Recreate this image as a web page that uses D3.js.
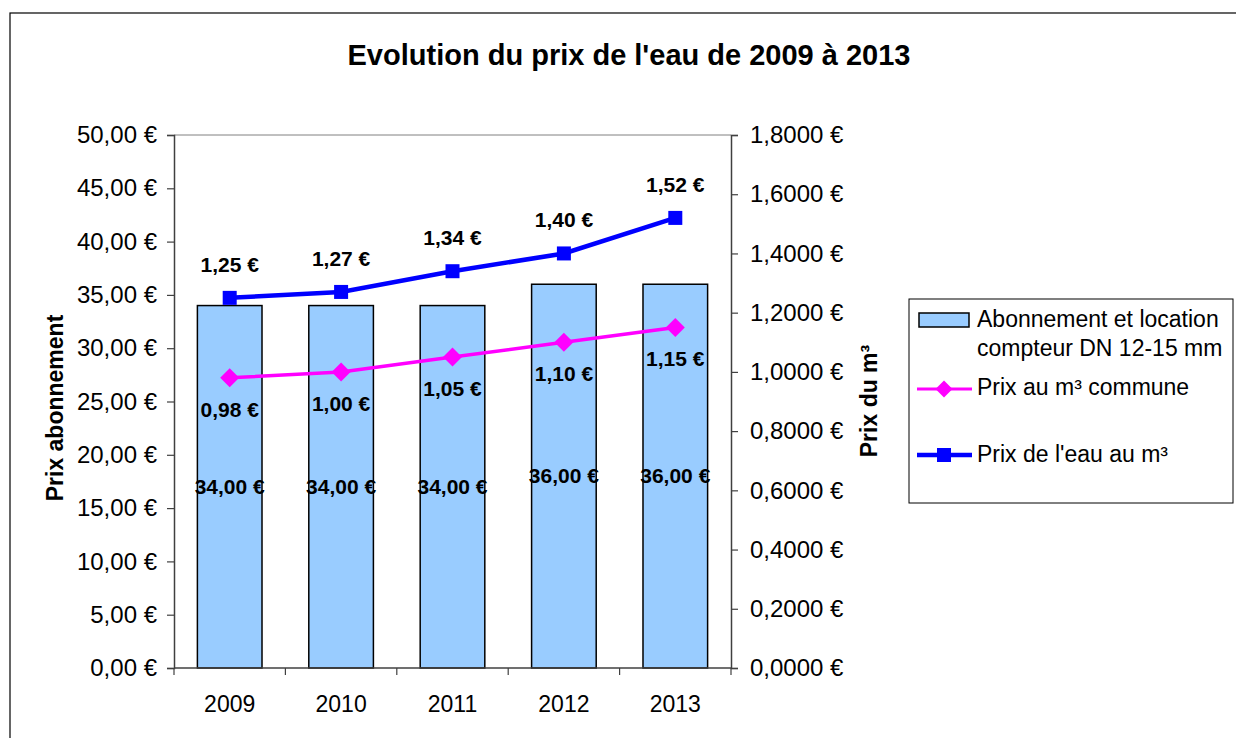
<!DOCTYPE html>
<html><head><meta charset="utf-8">
<script src="https://cdn.jsdelivr.net/npm/d3@7"></script>
<style>body{margin:0;background:#fff;} text{font-family:"Liberation Sans",Arial,sans-serif;}</style>
</head><body><svg id="c" width="1236" height="738"></svg>
<script>
const years = ["2009","2010","2011","2012","2013"];
const abonnement = [34, 34, 34, 36, 36];
const prixCommune = [0.98, 1.00, 1.05, 1.10, 1.15];
const prixEau = [1.25, 1.27, 1.34, 1.40, 1.52];
const leftTicks = [0,5,10,15,20,25,30,35,40,45,50];
const rightTicks = [0,0.2,0.4,0.6,0.8,1.0,1.2,1.4,1.6,1.8];

const svg = d3.select("#c");
const L=174, R=731, T=135, B=668;
const fmt2 = v => d3.format(".2f")(v).replace(".", ",") + " €";
const fmt4 = v => d3.format(".4f")(v).replace(".", ",") + " €";
const FONT = "Liberation Sans, Arial, sans-serif";

svg.append("rect").attr("x",10).attr("y",13).attr("width",1240).attr("height",740)
  .attr("fill","#fff").attr("stroke","#000").attr("stroke-width",1.2);

const x = d3.scaleBand().domain(years).range([L,R]).paddingInner(0.42).paddingOuter(0.21);
const xb = d3.scaleBand().domain(years).range([L,R]);
const yL = d3.scaleLinear().domain([0,50]).range([B,T]);
const yR = d3.scaleLinear().domain([0,1.8]).range([B,T]);

svg.append("line").attr("x1",L).attr("x2",R).attr("y1",T).attr("y2",T).attr("stroke","#808080").attr("stroke-width",1);

svg.selectAll("rect.bar").data(years).join("rect").attr("class","bar")
  .attr("x",d=>x(d)).attr("width",x.bandwidth())
  .attr("y",(d,i)=>yL(abonnement[i])).attr("height",(d,i)=>B-yL(abonnement[i]))
  .attr("fill","#99CCFF").attr("stroke","#000").attr("stroke-width",1.5);

const axL = svg.append("g").attr("transform",`translate(${L},0)`)
  .call(d3.axisLeft(yL).tickValues(leftTicks).tickFormat(fmt2).tickSize(7).tickPadding(10));
const axR = svg.append("g").attr("transform",`translate(${R},0)`)
  .call(d3.axisRight(yR).tickValues(rightTicks).tickFormat(fmt4).tickSize(7).tickPadding(12));
const axB = svg.append("g").attr("transform",`translate(0,${B})`)
  .call(d3.axisBottom(xb).tickSize(0).tickPadding(28));
[axL,axR,axB].forEach(g=>{
  g.select(".domain").attr("stroke","#404040").attr("stroke-width",1.5);
  g.selectAll(".tick line").attr("stroke","#404040").attr("stroke-width",1.2);
  g.selectAll("text").attr("font-size",24).attr("fill","#000").style("font-family",FONT);
});
axB.selectAll("text").attr("font-size",23);
axB.select(".domain").attr("d",`M${L},0H${R}`);
svg.selectAll("line.xt").data(d3.range(years.length+1)).join("line").attr("class","xt")
  .attr("x1",i=>L+i*xb.step()).attr("x2",i=>L+i*xb.step()).attr("y1",B).attr("y2",B+7)
  .attr("stroke","#404040").attr("stroke-width",1.2);

const cx = d => x(d)+x.bandwidth()/2;

const lineGen = d3.line().x((d,i)=>cx(years[i])).y(d=>yR(d));
svg.append("path").datum(prixCommune).attr("d",lineGen).attr("fill","none").attr("stroke","#FF00FF").attr("stroke-width",3.5);
svg.append("path").datum(prixEau).attr("d",lineGen).attr("fill","none").attr("stroke","#0000FF").attr("stroke-width",4.5);

svg.selectAll("path.dia").data(prixCommune).join("path").attr("class","dia")
  .attr("d",d3.symbol(d3.symbolSquare,180))
  .attr("transform",(d,i)=>`translate(${cx(years[i])},${yR(d)}) rotate(45)`)
  .attr("fill","#FF00FF");
svg.selectAll("rect.sq").data(prixEau).join("rect").attr("class","sq")
  .attr("x",(d,i)=>cx(years[i])-7).attr("y",d=>yR(d)-7).attr("width",14).attr("height",14)
  .attr("fill","#0000FF");

function addLabels(data, yf){
  svg.append("g").selectAll("text").data(data).join("text")
    .attr("x",(d,i)=>cx(years[i])).attr("y",d=>yf(d)).text(d=>fmt2(d))
    .attr("font-size",21).attr("font-weight","bold").attr("text-anchor","middle").attr("fill","#000");
}
addLabels(abonnement, d=>(yL(d)+B)/2+7);
addLabels(prixCommune, d=>yR(d)+39);
addLabels(prixEau, d=>yR(d)-26);

svg.append("text").attr("x",629).attr("y",65).attr("text-anchor","middle")
  .attr("font-size",29).attr("font-weight","bold").text("Evolution du prix de l'eau de 2009 à 2013");
svg.append("text").attr("transform","translate(63,408) rotate(-90)").attr("text-anchor","middle")
  .attr("font-size",23).attr("font-weight","bold").text("Prix abonnement");
svg.append("text").attr("transform","translate(877,401) rotate(-90)").attr("text-anchor","middle")
  .attr("font-size",23).attr("font-weight","bold").text("Prix du m³");

const lg = svg.append("g");
lg.append("rect").attr("x",909).attr("y",299).attr("width",324).attr("height",204)
  .attr("fill","#fff").attr("stroke","#000").attr("stroke-width",1);
lg.append("rect").attr("x",919).attr("y",313).attr("width",50).attr("height",14)
  .attr("fill","#99CCFF").attr("stroke","#000").attr("stroke-width",1.5);
lg.append("text").attr("x",977).attr("y",327).attr("font-size",23).text("Abonnement et location");
lg.append("text").attr("x",977).attr("y",356).attr("font-size",23).text("compteur DN 12-15 mm");
lg.append("line").attr("x1",917).attr("x2",972).attr("y1",389).attr("y2",389).attr("stroke","#FF00FF").attr("stroke-width",3);
lg.append("path").attr("d",d3.symbol(d3.symbolSquare,144)).attr("transform","translate(944,389) rotate(45)").attr("fill","#FF00FF");
lg.append("text").attr("x",977).attr("y",395).attr("font-size",23).text("Prix au m³ commune");
lg.append("line").attr("x1",917).attr("x2",972).attr("y1",455).attr("y2",455).attr("stroke","#0000FF").attr("stroke-width",4.5);
lg.append("rect").attr("x",937).attr("y",448).attr("width",14).attr("height",14).attr("fill","#0000FF");
lg.append("text").attr("x",977).attr("y",462).attr("font-size",23).text("Prix de l'eau au m³");
</script></body></html>
